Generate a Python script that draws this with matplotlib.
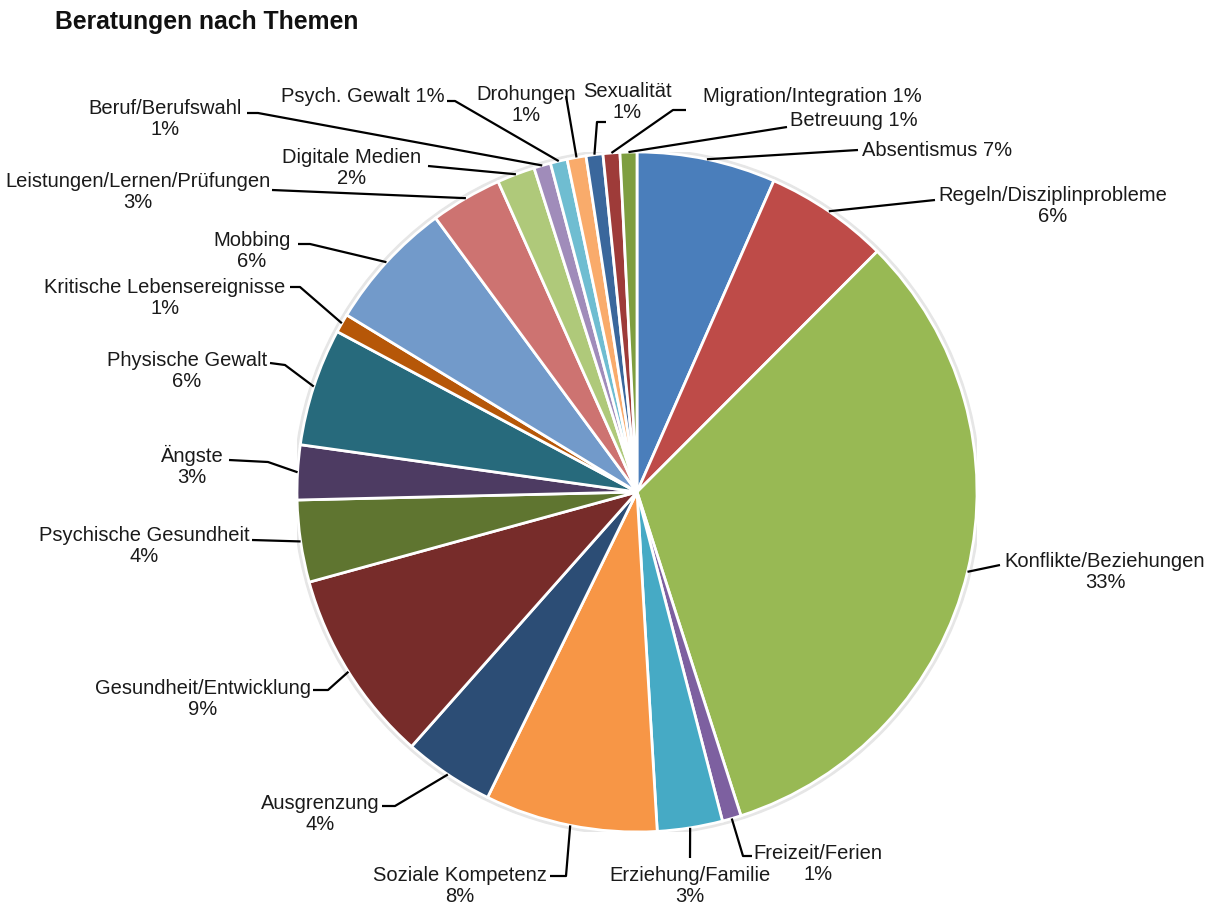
import matplotlib
matplotlib.use('Agg')
import numpy as np
import matplotlib.pyplot as plt
from matplotlib.patches import Circle

plt.rcParams['font.family'] = ['Liberation Sans', 'DejaVu Sans']

# topics, clockwise from 12 o'clock
topics = ['Absentismus', 'Regeln/Disziplinprobleme', 'Konflikte/Beziehungen',
          'Freizeit/Ferien', 'Erziehung/Familie', 'Soziale Kompetenz',
          'Ausgrenzung', 'Gesundheit/Entwicklung', 'Psychische Gesundheit',
          'Ängste', 'Physische Gewalt', 'Kritische Lebensereignisse', 'Mobbing',
          'Leistungen/Lernen/Prüfungen', 'Digitale Medien', 'Beruf/Berufswahl',
          'Psych. Gewalt', 'Drohungen', 'Sexualität', 'Migration/Integration',
          'Betreuung']
shares = [6.6, 5.9, 32.6, 0.9, 3.1, 8.2, 4.3, 9.2, 3.9, 2.6, 5.6, 0.9, 6.2,
          3.4, 1.8, 0.8, 0.8, 0.9, 0.8, 0.8, 0.8]
colors = ['#4a7ebb', '#be4b48', '#98b954', '#7d60a0', '#46aac5', '#f79646',
          '#2c4d75', '#772c2a', '#5f7530', '#4d3b62', '#276a7c', '#b65708',
          '#729aca', '#cd7371', '#afc97a', '#a08cba', '#6fbdd1', '#f9ab6b',
          '#3a679c', '#9e3b39', '#7e9e40']

W, H = 1211, 908
CX, CY, R = 637, 492, 340

fig = plt.figure(figsize=(W / 100, H / 100), dpi=100)
ax = fig.add_axes([(CX - R) / W, (H - CY - R) / H, 2 * R / W, 2 * R / H])

ax.add_patch(Circle((0, 0), 1.01, color='#e6e6e6', zorder=0))
wedges, _ = ax.pie(shares, colors=colors, startangle=90, counterclock=False,
                   radius=1, wedgeprops=dict(edgecolor='white', linewidth=2))
ax.set_xlim(-1, 1)
ax.set_ylim(-1, 1)
ax.set_aspect('equal')
ax.axis('off')


def px(x, y):
    """reference pixel (top-left origin) -> data coords"""
    return (x - CX) / R, (CY - y) / R


# label layout: (text x, text y, ha, single line?, leader points in px)
layout = {
    'Absentismus': (862, 150, 'left', True, [(858, 150)]),
    'Regeln/Disziplinprobleme': (1053, 206, 'center', False, [(935, 200)]),
    'Konflikte/Beziehungen': (1105, 572, 'center', False, [(1000, 565)]),
    'Freizeit/Ferien': (818, 864, 'center', False, [(743, 856), (752, 856)]),
    'Erziehung/Familie': (690, 886, 'center', False, [(690, 858)]),
    'Soziale Kompetenz': (460, 886, 'center', False, [(566, 876), (550, 876)]),
    'Ausgrenzung': (320, 814, 'center', False, [(395, 806), (382, 806)]),
    'Gesundheit/Entwicklung': (203, 699, 'center', False, [(328, 690), (313, 690)]),
    'Psychische Gesundheit': (144, 546, 'center', False, [(252, 540)]),
    'Ängste': (192, 466, 'center', False, [(268, 462), (229, 460)]),
    'Physische Gewalt': (187, 371, 'center', False, [(285, 365), (270, 363)]),
    'Kritische Lebensereignisse': (165, 298, 'center', False, [(300, 287), (290, 287)]),
    'Mobbing': (252, 251, 'center', False, [(310, 244), (298, 244)]),
    'Leistungen/Lernen/Prüfungen': (138, 192, 'center', False, [(272, 190)]),
    'Digitale Medien': (352, 168, 'center', False, [(428, 166)]),
    'Beruf/Berufswahl': (165, 119, 'center', False, [(258, 113), (247, 113)]),
    'Psych. Gewalt': (445, 97, 'right', True, [(455, 101), (447, 101)]),
    'Drohungen': (526, 105, 'center', False, [(566, 96)]),
    'Sexualität': (627, 102, 'center', False, [(597, 122), (606, 122)]),
    'Migration/Integration': (703, 97, 'left', True, [(673, 110), (686, 110)]),
    'Betreuung': (790, 121, 'left', True, [(787, 127)]),
}

total = sum(shares)
for w, name, v in zip(wedges, topics, shares):
    tx, ty, ha, single, pts = layout[name]
    mid = np.deg2rad((w.theta1 + w.theta2) / 2)
    xs = [np.cos(mid)] + [px(*p)[0] for p in pts]
    ys = [np.sin(mid)] + [px(*p)[1] for p in pts]
    ax.plot(xs, ys, color='black', lw=1.6, clip_on=False, zorder=5,
            solid_capstyle='butt')
    pct = f'{round(v / total * 100):.0f}%'
    label = f'{name} {pct}' if single else f'{name}\n{pct}'
    x, y = px(tx, ty)
    ax.text(x, y, label, ha=ha, va='center', fontsize=14.5, color='#1a1a1a',
            linespacing=1.15, clip_on=False)

fig.text(55 / W, 1 - 22 / H, 'Beratungen nach Themen', fontsize=17.8,
         fontweight='bold', ha='left', va='center', color='#111111')

fig.savefig('out.png', dpi=100, facecolor='white')
